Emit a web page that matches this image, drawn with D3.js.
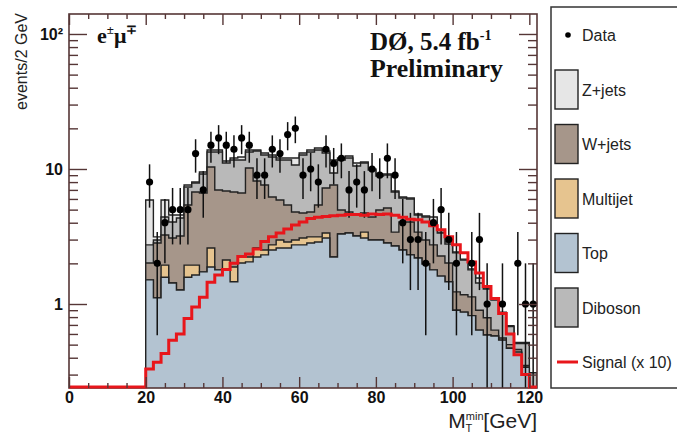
<!DOCTYPE html>
<html>
<head>
<meta charset="utf-8">
<script src="https://cdn.jsdelivr.net/npm/d3@7"></script>
<style>
  body { margin: 0; background: #fff; }
  svg { display: block; font-family: "Liberation Sans", Arial, sans-serif; }
</style>
</head>
<body>
<div id="chart"></div>
<script>
const SVG_WIDTH = 677;
const SVG_HEIGHT = 436;
const FRAME = { left: 69, right: 537, top: 14, bottom: 388 };
const BIN_START = 20;   // GeV, first filled bin
const BIN_WIDTH = 2;    // GeV
const X_MAX = 122;
const Y_MIN = 0.2387, Y_MAX = 140.6;

// stacked backgrounds, events per 2 GeV bin starting at 20 GeV
const topBkg = [1.51,1.11,1.58,1.43,1.27,1.58,1.64,1.73,1.88,1.79,1.79,1.46,2.01,2.05,2.23,2.31,2.51,2.60,2.60,2.74,
  2.74,2.83,2.88,3.08,2.23,3.30,3.36,3.19,3.08,2.98,2.98,2.83,2.69,2.51,2.31,2.19,1.98,1.79,1.61,1.46,
  0.90,0.87,0.82,0.64,0.59,0.58,0.54,0.47,0.44,0.34,0.21];
const multijet = [0,0,0.36,0,0,0.36,0.30,0,0.72,0,0.33,0.42,0.22,0.18,0.37,0.20,0.23,0.38,0.28,0.24,
  0.34,0.31,0.26,0.28,0,0,0,0,0.33,0,0,0,0,0,0,0,0,0,0,0,
  0,0,0,0,0,0,0,0,0,0,0];
const wjets = [0.50,1.72,1.30,1.65,1.92,3.47,4.81,4.91,7.75,5.20,4.75,4.87,4.41,7.94,5.55,5.10,3.46,2.91,2.53,1.82,
  1.64,1.66,2.27,3.87,5.38,1.67,1.44,1.37,1.31,1.43,1.99,2.31,0.72,1.54,1.74,1.22,1.00,0.95,0.66,0.55,
  0.33,0.30,0.31,0.26,0.20,0.06,0.02,0.03,0.02,0.01,0.01];
const diboson = [0.73,0.15,1.17,0.97,1.15,1.95,1.13,2.54,3.01,6.37,4.21,4.91,5.02,3.19,5.44,5.09,6.07,5.77,6.25,5.91,
  7.98,8.56,8.41,5.91,1.73,6.69,7.27,5.97,6.36,5.42,3.90,3.89,3.34,2.05,1.94,1.15,1.43,1.24,1.09,0.77,
  1.16,0.95,0.66,0.53,0.50,0.43,0.30,0.18,0.05,0.16,0.09];
const zjets = [3.15,0.16,1.48,0.51,0.22,0.25,0.13,0.32,0.46,0.46,0.38,0.41,0.61,0.46,0.23,0.44,0.43,0.41,0.41,1.36,
  0.44,0.46,0.48,0.45,2.32,0.41,0.42,0.55,0.19,0.17,0.31,0.15,0.12,0.10,0.11,0.08,0.08,0.43,0.05,0.10,
  0.04,0.03,0.03,0.13,0.02,0.02,0.01,0.01,0.01,0.01,0];
const dataCounts = [8,2,4,5,5,5,13,7,15,17,15,14,17,15,9,9,14,13,18,20,
  9,10,8,14,11,12,7,8,7,10,9,12,9,4,3,3,2,4,5,3,
  2,0,2,3,1,0,1,0,2,1,1];
const signalX10 = [0.33,0.37,0.43,0.54,0.60,0.78,0.95,1.12,1.45,1.64,1.80,2.00,2.25,2.35,2.55,2.90,3.15,3.35,3.60,3.85,
  4.05,4.30,4.40,4.45,4.50,4.55,4.60,4.60,4.55,4.65,4.60,4.65,4.55,4.40,4.25,4.20,4.05,3.80,3.55,3.15,
  2.75,2.40,2.05,1.70,1.35,1.10,0.85,0.60,0.42,0.30,0];

const X_TICKS = [0, 20, 40, 60, 80, 100, 120];
const Y_TICKS = [1, 10, 100];

const LAYERS = [
  { name: "Top",     values: topBkg,   color: "#b3c3d1" },
  { name: "Multijet",values: multijet, color: "#e6c48f" },
  { name: "W+jets",  values: wjets,    color: "#a6968a" },
  { name: "Diboson", values: diboson,  color: "#b9b9b9" },
  { name: "Z+jets",  values: zjets,    color: "#e6e6e6" }
];
const LEGEND = [
  { label: "Z+jets",  color: "#e6e6e6" },
  { label: "W+jets",  color: "#a6968a" },
  { label: "Multijet",color: "#e6c48f" },
  { label: "Top",     color: "#b3c3d1" },
  { label: "Diboson", color: "#b9b9b9" }
];
const FRAME_COLOR = "#553636";
const SIGNAL_COLOR = "#e8161b";

const svg = d3.select("#chart").append("svg")
  .attr("width", SVG_WIDTH)
  .attr("height", SVG_HEIGHT);

const x = d3.scaleLinear().domain([0, X_MAX]).range([FRAME.left, FRAME.right]);
const y = d3.scaleLog().domain([Y_MIN, Y_MAX]).range([FRAME.bottom, FRAME.top]);
const yc = v => v > Y_MIN ? y(v) : FRAME.bottom + 4;

svg.append("clipPath").attr("id", "plotclip")
  .append("rect")
  .attr("x", FRAME.left).attr("y", FRAME.top)
  .attr("width", FRAME.right - FRAME.left).attr("height", FRAME.bottom - FRAME.top);

const plot = svg.append("g").attr("clip-path", "url(#plotclip)");

// cumulative stack
const nBins = topBkg.length;
const cumulative = [];
let running = new Array(nBins).fill(0);
LAYERS.forEach(layer => {
  running = running.map((r, i) => r + layer.values[i]);
  cumulative.push({ color: layer.color, sums: running.slice() });
});

function stepPoints(sums) {
  const pts = [[x(BIN_START), FRAME.bottom + 4]];
  sums.forEach((s, i) => {
    const lo = BIN_START + i * BIN_WIDTH, hi = lo + BIN_WIDTH;
    pts.push([x(lo), yc(s)], [x(hi), yc(s)]);
  });
  pts.push([x(BIN_START + nBins * BIN_WIDTH), FRAME.bottom + 4]);
  return pts;
}
const line = d3.line();

// draw top-most cumulative first
cumulative.slice().reverse().forEach(c => {
  plot.append("path")
    .attr("d", line(stepPoints(c.sums)) + "Z")
    .attr("fill", c.color)
    .attr("stroke", "#222")
    .attr("stroke-width", 1.4)
    .attr("stroke-linejoin", "miter");
});

// signal (x10)
const sigBottom = FRAME.bottom - 1;
const sigPts = [[x(0), sigBottom], [x(BIN_START), sigBottom]];
signalX10.forEach((s, i) => {
  const lo = BIN_START + i * BIN_WIDTH, hi = lo + BIN_WIDTH;
  const yy = s > Y_MIN ? y(s) : sigBottom;
  sigPts.push([x(lo), yy], [x(hi), yy]);
});

// data error bars, sqrt(N)
const dataG = plot.append("g");
dataCounts.forEach((n, i) => {
  if (n <= 0) return;
  const cx = x(BIN_START + (i + 0.5) * BIN_WIDTH);
  const err = Math.sqrt(n);
  const lo = n - err;
  dataG.append("line")
    .attr("x1", cx).attr("x2", cx)
    .attr("y1", y(n + err))
    .attr("y2", lo > Y_MIN ? y(lo) : FRAME.bottom + 4)
    .attr("stroke", "#111").attr("stroke-width", 1.5);
});

// frame
svg.append("rect")
  .attr("x", FRAME.left).attr("y", FRAME.top)
  .attr("width", FRAME.right - FRAME.left).attr("height", FRAME.bottom - FRAME.top)
  .attr("fill", "none").attr("stroke", FRAME_COLOR).attr("stroke-width", 1.6);

svg.append("path")
  .attr("d", line(sigPts))
  .attr("fill", "none")
  .attr("stroke", SIGNAL_COLOR)
  .attr("stroke-width", 3);

dataCounts.forEach((n, i) => {
  if (n <= 0) return;
  svg.append("circle")
    .attr("cx", x(BIN_START + (i + 0.5) * BIN_WIDTH)).attr("cy", y(n)).attr("r", 3.6)
    .attr("fill", "#000");
});

// axes
const xMinor = d3.range(0, 121, 5).filter(v => v % 20 !== 0);
const yMinor = [];
[-1, 0, 1, 2].forEach(k => d3.range(2, 10).forEach(m => {
  const v = m * Math.pow(10, k);
  if (v > Y_MIN && v < Y_MAX) yMinor.push(v);
}));

function styleAxis(g) {
  g.select(".domain").remove();
  g.selectAll("line").attr("stroke", FRAME_COLOR).attr("stroke-width", 1.4);
}

svg.append("g").attr("transform", `translate(0,${FRAME.bottom})`)
  .call(d3.axisBottom(x).tickValues(X_TICKS).tickSizeInner(-11).tickPadding(4).tickFormat(d3.format("d")))
  .call(styleAxis)
  .selectAll("text")
  .attr("fill", "#111").style("font-size", "16px").style("font-weight", "bold");
svg.append("g").attr("transform", `translate(0,${FRAME.bottom})`)
  .call(d3.axisBottom(x).tickValues(xMinor).tickSizeInner(-5).tickFormat(""))
  .call(styleAxis);
svg.append("g").attr("transform", `translate(0,${FRAME.top})`)
  .call(d3.axisTop(x).tickValues(X_TICKS).tickSizeInner(-11).tickFormat(""))
  .call(styleAxis);
svg.append("g").attr("transform", `translate(0,${FRAME.top})`)
  .call(d3.axisTop(x).tickValues(xMinor).tickSizeInner(-5).tickFormat(""))
  .call(styleAxis);

const yFmt = v => v === 100 ? "10\u00B2" : String(v);
svg.append("g").attr("transform", `translate(${FRAME.left},0)`)
  .call(d3.axisLeft(y).tickValues(Y_TICKS).tickSizeInner(-18).tickPadding(-12).tickFormat(yFmt))
  .call(styleAxis)
  .selectAll("text")
  .attr("fill", "#111").attr("x", -6).style("font-size", "16px").style("font-weight", "bold");
svg.append("g").attr("transform", `translate(${FRAME.left},0)`)
  .call(d3.axisLeft(y).tickValues(yMinor).tickSizeInner(-9).tickFormat(""))
  .call(styleAxis);
svg.append("g").attr("transform", `translate(${FRAME.right},0)`)
  .call(d3.axisRight(y).tickValues(Y_TICKS).tickSizeInner(-18).tickFormat(""))
  .call(styleAxis);
svg.append("g").attr("transform", `translate(${FRAME.right},0)`)
  .call(d3.axisRight(y).tickValues(yMinor).tickSizeInner(-9).tickFormat(""))
  .call(styleAxis);

// axis titles
svg.append("text")
  .attr("transform", "translate(27,13) rotate(-90)")
  .attr("text-anchor", "end")
  .style("font-size", "16px").attr("fill", "#222")
  .text("events/2 GeV");

const xt = svg.append("text")
  .attr("x", FRAME.right).attr("y", 428)
  .attr("text-anchor", "end")
  .style("font-size", "21px").attr("fill", "#222");
xt.append("tspan").text("M");
xt.append("tspan").attr("dy", -8).style("font-size", "11px").text("min");
xt.append("tspan").attr("dx", -18).attr("dy", 12).style("font-size", "11px").text("T");
xt.append("tspan").attr("dx", 11).attr("dy", -4).text("[GeV]");

// labels inside the frame
const serif = "'Liberation Serif', 'Times New Roman', serif";
const lab = svg.append("text")
  .attr("x", 97).attr("y", 43)
  .style("font-family", serif).style("font-weight", "bold").style("font-size", "22px")
  .attr("fill", "#111");
lab.append("tspan").text("e");
lab.append("tspan").attr("dy", -9).style("font-size", "13px").text("\u00B1");
lab.append("tspan").attr("dy", 9).text("\u03BC");
lab.append("tspan").attr("dy", -9).style("font-size", "13px").text("\u2213");

const d0 = svg.append("text")
  .attr("x", 370).attr("y", 50)
  .style("font-family", serif).style("font-weight", "bold").style("font-size", "25px")
  .attr("fill", "#111");
d0.append("tspan").text("D\u00D8, 5.4 fb");
d0.append("tspan").attr("dy", -10).style("font-size", "14px").text("-1");
svg.append("text")
  .attr("x", 370).attr("y", 77)
  .style("font-family", serif).style("font-weight", "bold").style("font-size", "25px")
  .attr("fill", "#111")
  .attr("textLength", 133).attr("lengthAdjust", "spacingAndGlyphs")
  .text("Preliminary");

// legend
const legend = svg.append("g");
legend.append("rect")
  .attr("x", 551).attr("y", 7).attr("width", 140).attr("height", 381)
  .attr("fill", "#fff").attr("stroke", "#333").attr("stroke-width", 1.5);

const ROW0 = 35, ROW_STEP = 54.5;
legend.append("circle").attr("cx", 568).attr("cy", ROW0).attr("r", 2.8).attr("fill", "#000");
legend.append("text").attr("x", 582).attr("y", ROW0 + 6)
  .style("font-size", "16px").attr("fill", "#222").text("Data");

LEGEND.forEach((d, i) => {
  const cy = ROW0 + (i + 1) * ROW_STEP;
  legend.append("rect")
    .attr("x", 555).attr("y", cy - 19.5).attr("width", 23).attr("height", 39)
    .attr("fill", d.color).attr("stroke", "#222").attr("stroke-width", 1.4);
  legend.append("text").attr("x", 582).attr("y", cy + 6)
    .style("font-size", "16px").attr("fill", "#222").text(d.label);
});
const sigY = ROW0 + 6 * ROW_STEP;
legend.append("line")
  .attr("x1", 557).attr("x2", 578).attr("y1", sigY).attr("y2", sigY)
  .attr("stroke", SIGNAL_COLOR).attr("stroke-width", 3);
legend.append("text").attr("x", 582).attr("y", sigY + 6)
  .style("font-size", "16px").attr("fill", "#222").text("Signal (x 10)");
</script>
</body>
</html>
